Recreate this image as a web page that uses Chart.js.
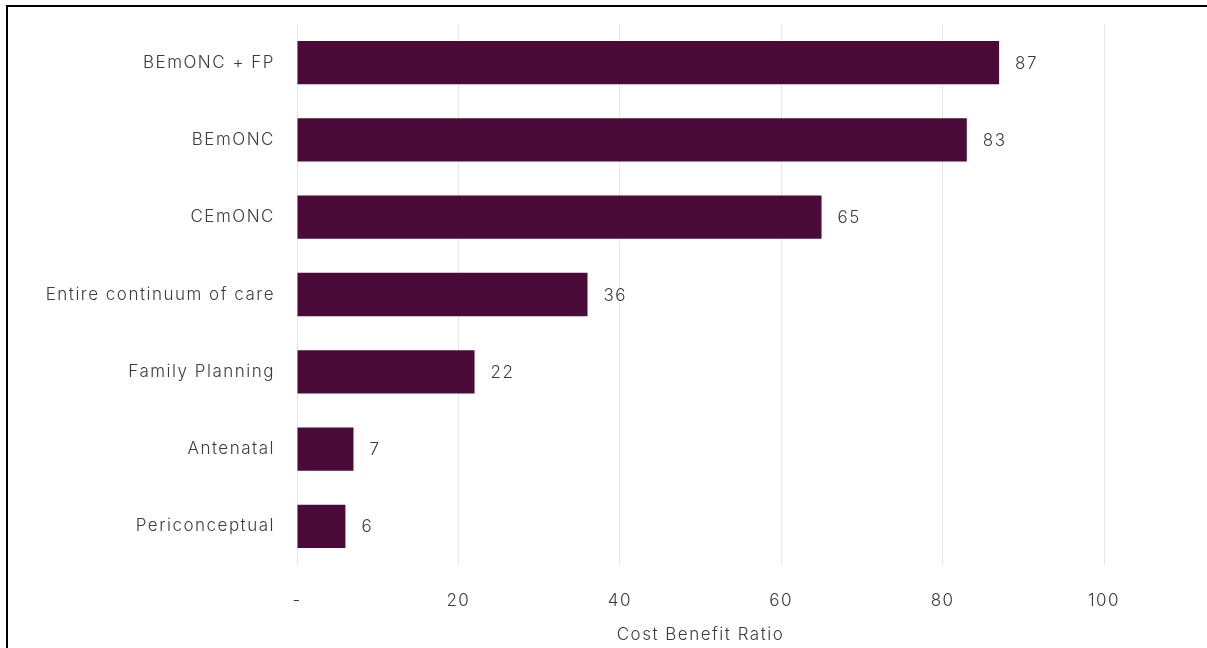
<!DOCTYPE html>
<html>
<head>
<meta charset="utf-8">
<script src="https://cdn.jsdelivr.net/npm/chart.js@4/dist/chart.umd.min.js"></script>
<style>
    html, body { margin: 0; padding: 0; background: #fff; }
    #wrap { position: relative; width: 1207px; height: 648px; overflow: hidden; }
    #frame { position: absolute; left: 6px; top: 5px; right: -10px; bottom: -10px;
             border-left: 2px solid #000; border-top: 2px solid #000; pointer-events: none; }
    canvas { position: absolute; left: 0; top: 0; }
</style>
</head>
<body>
<div id="wrap">
    <canvas id="costChart" width="1207" height="648"></canvas>
    <div id="frame"></div>
</div>
<script>
const categories = ['BEmONC + FP', 'BEmONC', 'CEmONC', 'Entire continuum of care', 'Family Planning', 'Antenatal', 'Periconceptual'];
const ratios = [87, 83, 65, 36, 22, 7, 6];
const xTicks = ['-', '20', '40', '60', '80', '100'];

const textColor = '#3c3c3c';
const fontFamily = 'Inter, Roboto, sans-serif';
const spacing = '1.5px';

// the reference text is set quite loose, so widen the letters a bit
const looseText = {
    id: 'looseText',
    beforeUpdate(chart) { chart.ctx.letterSpacing = spacing; },
    beforeDraw(chart) { chart.ctx.letterSpacing = spacing; }
};

// draws the value next to the end of each bar
const valueLabels = {
    id: 'valueLabels',
    afterDatasetsDraw(chart) {
        const ctx = chart.ctx;
        const meta = chart.getDatasetMeta(0);
        ctx.save();
        ctx.letterSpacing = spacing;
        ctx.font = '300 17px ' + fontFamily;
        ctx.fillStyle = textColor;
        ctx.textAlign = 'left';
        ctx.textBaseline = 'middle';
        meta.data.forEach((bar, i) => {
            ctx.fillText(String(ratios[i]), bar.x + 16, bar.y + 1);
        });
        ctx.restore();
    }
};

const tickFont = { family: fontFamily, size: 17, weight: 300 };

const ctx = document.getElementById('costChart').getContext('2d');
const costChart = new Chart(ctx, {
    type: 'bar',
    data: {
        labels: categories,
        datasets: [{
            label: 'Cost Benefit Ratio',
            data: ratios,
            backgroundColor: '#4a0b38',
            categoryPercentage: 1,
            barPercentage: 0.56
        }]
    },
    options: {
        indexAxis: 'y',
        responsive: false,
        animation: false,
        layout: { padding: { top: 24, right: 103, left: 8, bottom: 0 } },
        plugins: {
            legend: { display: false },
            tooltip: { enabled: false }
        },
        scales: {
            x: {
                min: 0,
                max: 100,
                ticks: {
                    stepSize: 20,
                    color: textColor,
                    font: tickFont,
                    padding: 26,
                    callback: (v, i) => xTicks[i]
                },
                grid: { color: '#e6e6e6', drawTicks: false },
                border: { display: false },
                title: {
                    display: true,
                    text: 'Cost Benefit Ratio',
                    color: textColor,
                    font: tickFont,
                    padding: { top: 4, bottom: 3 }
                },
                afterFit(scale) { scale.height = 83; }
            },
            y: {
                ticks: {
                    color: textColor,
                    font: tickFont,
                    padding: 22
                },
                grid: { display: false, drawTicks: false },
                border: { display: false },
                afterFit(scale) {
                    scale.width = 289;
                    scale.paddingTop = 0;
                    scale.paddingBottom = 0;
                }
            }
        }
    },
    plugins: [looseText, valueLabels]
});
</script>
</body>
</html>
